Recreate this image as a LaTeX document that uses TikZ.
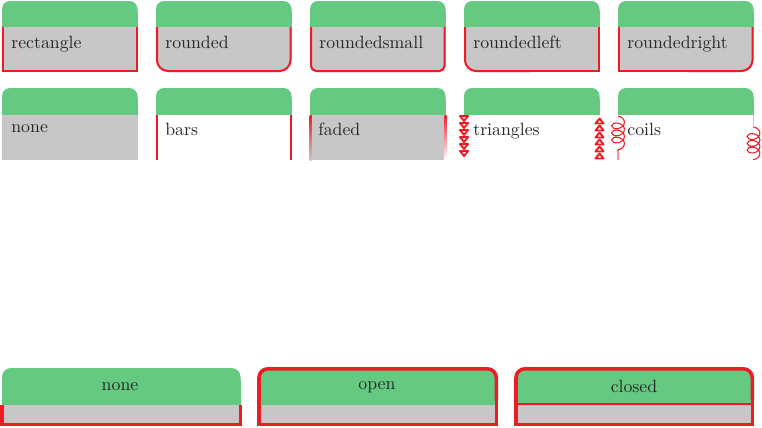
\documentclass[tikz,border=0pt]{standalone}
\usetikzlibrary{decorations.pathmorphing}
\definecolor{hdr}{RGB}{101,201,129}
\definecolor{bdy}{RGB}{199,199,199}
\definecolor{brd}{RGB}{237,28,36}
\begin{document}
\begin{tikzpicture}[x=0.5625pt,y=-0.5625pt,
  bor/.style={draw=brd, line width=1.125pt, line join=miter},
  borthick/.style={draw=brd, line width=2pt, line join=miter},
  lbl/.style={anchor=base west, inner sep=0pt, text=black!85},
  clbl/.style={anchor=base, inner sep=0pt, text=black!85},
  tri/.style={draw=brd, fill=white, line width=1.1pt, line join=round},
  coilc/.style={draw=brd, line width=0.6pt},
  hdrr/.style={fill=hdr, rounded corners=4.5pt}]
\useasboundingbox (0,0) rectangle (762,427);

% ---------- Row 1 ----------
% rectangle
\fill[bdy] (2,27) rectangle (137.5,72);
\fill[hdrr] (2,1) rectangle (137.5,20);
\fill[hdr] (2,12) rectangle (137.5,27);
\draw[bor] (3,27) -- (3,71) -- (136.5,71) -- (136.5,27);
\node[lbl] (r1) at (11,48) {rectangle};

% rounded
\fill[bdy, rounded corners=6.75pt] (156,10) rectangle (291.5,72);
\fill[hdrr] (156,1) rectangle (291.5,20);
\fill[hdr] (156,12) rectangle (291.5,27);
\draw[bor, rounded corners=6.2pt] (157,27) -- (157,71) -- (290.5,71) -- (290.5,27);
\node[lbl] (r2) at (165,48) {rounded};

% roundedsmall
\fill[bdy, rounded corners=3.4pt] (310,10) rectangle (445.5,72);
\fill[hdrr] (310,1) rectangle (445.5,20);
\fill[hdr] (310,12) rectangle (445.5,27);
\draw[bor, rounded corners=2.9pt] (311,27) -- (311,71) -- (444.5,71) -- (444.5,27);
\node[lbl] (r3) at (319,48) {roundedsmall};

% roundedleft
\fill[bdy, rounded corners=6.75pt] (464,10) rectangle (550,72);
\fill[bdy] (510,10) rectangle (599.5,72);
\fill[hdrr] (464,1) rectangle (599.5,20);
\fill[hdr] (464,12) rectangle (599.5,27);
\draw[bor, rounded corners=6.2pt] (465,27) -- (465,71) -- (530,71);
\draw[bor] (529,71) -- (598.5,71) -- (598.5,27);
\node[lbl] (r4) at (473,48) {roundedleft};

% roundedright
\fill[bdy] (618,10) rectangle (710,72);
\fill[bdy, rounded corners=6.75pt] (670,10) rectangle (753.5,72);
\fill[hdrr] (618,1) rectangle (753.5,20);
\fill[hdr] (618,12) rectangle (753.5,27);
\draw[bor] (619,27) -- (619,71) -- (690,71);
\draw[bor, rounded corners=6.2pt] (689,71) -- (752.5,71) -- (752.5,27);
\node[lbl] (r5) at (627,48) {roundedright};

% ---------- Row 2 ----------
% none
\fill[bdy] (2,115) rectangle (137.5,160);
\fill[hdrr] (2,88) rectangle (137.5,107);
\fill[hdr] (2,99) rectangle (137.5,115);
\node[lbl] (s1) at (11,132) {none};

% bars
\fill[hdrr] (156,88) rectangle (291.5,107);
\fill[hdr] (156,99) rectangle (291.5,115);
\draw[bor] (157,115) -- (157,160);
\draw[bor] (290.5,115) -- (290.5,160);
\node[lbl] (s2) at (165,135.5) {bars};

% faded
\fill[bdy] (310,115) rectangle (445.5,160);
\fill[hdrr] (310,88) rectangle (445.5,107);
\fill[hdr] (310,99) rectangle (445.5,115);
\shade[top color=brd, bottom color=bdy] (309.5,115) rectangle (311.5,160);
\shade[top color=brd, bottom color=white] (444.5,115) rectangle (446.5,160);
\node[lbl] (s3) at (318,135.5) {faded};

% triangles
\fill[hdrr] (464,88) rectangle (599.5,107);
\fill[hdr] (464,99) rectangle (599.5,115);
\foreach \k in {0,...,5} {
  \draw[tri] (460,{116+7*\k}) -- (468,{116+7*\k}) -- (464,{121+7*\k}) -- cycle;
  \draw[tri] (595.5,{158.5-7*\k}) -- (603.5,{158.5-7*\k}) -- (599.5,{153.5-7*\k}) -- cycle;
}
\node[lbl] (s4) at (473,135.5) {triangles};

% coils
\fill[hdrr] (618,88) rectangle (753.5,107);
\fill[hdr] (618,99) rectangle (753.5,115);
\draw[coilc, decorate, decoration={coil, amplitude=3.6pt, segment length=4pt, aspect=0.7}] (618,116) -- (618,151);
\draw[draw=brd!45, line width=0.6pt] (618,151) -- (618,160);
\draw[draw=brd!35, line width=0.6pt] (753.5,115) -- (753.5,127);
\draw[coilc, decorate, decoration={coil, amplitude=3.6pt, segment length=3.8pt, aspect=0.7}] (753.5,127) -- (753.5,160);
\node[lbl] (s5) at (627,135.5) {coils};

% ---------- Row 3 ----------
% none
\fill[bdy] (2,405) rectangle (240.5,424.5);
\fill[fill=hdr, rounded corners=5pt] (2,368) rectangle (240.5,395);
\fill[hdr] (2,380) rectangle (240.5,405);
\draw[borthick] (2,405) -- (2,424.5) -- (240.5,424.5) -- (240.5,405);
\node[clbl] (u1) at (120,390) {none};

% open
\fill[bdy] (259,395) rectangle (496.3,424.7);
\fill[fill=hdr, rounded corners=5pt] (259,368.8) rectangle (496.3,395);
\fill[hdr] (259,380) rectangle (496.3,405);
\draw[borthick, rounded corners=5pt] (259,400) -- (259,368.8) -- (496.3,368.8) -- (496.3,400);
\draw[borthick] (259,395) -- (259,424.7) -- (496.3,424.7) -- (496.3,395);
\node[clbl] (u2) at (377,389) {open};

% closed
\fill[bdy] (516,395) rectangle (752.3,424.7);
\fill[fill=hdr, rounded corners=5pt] (516,368.8) rectangle (752.3,395);
\fill[hdr] (516,380) rectangle (752.3,404);
\draw[borthick, rounded corners=5pt] (516,400) -- (516,368.8) -- (752.3,368.8) -- (752.3,400);
\draw[borthick] (516,395) -- (516,424.7) -- (752.3,424.7) -- (752.3,395);
\draw[draw=brd, line width=1.4pt] (516,404) -- (752.3,404);
\node[clbl] (u3) at (634,392) {closed};
\end{tikzpicture}
\end{document}
